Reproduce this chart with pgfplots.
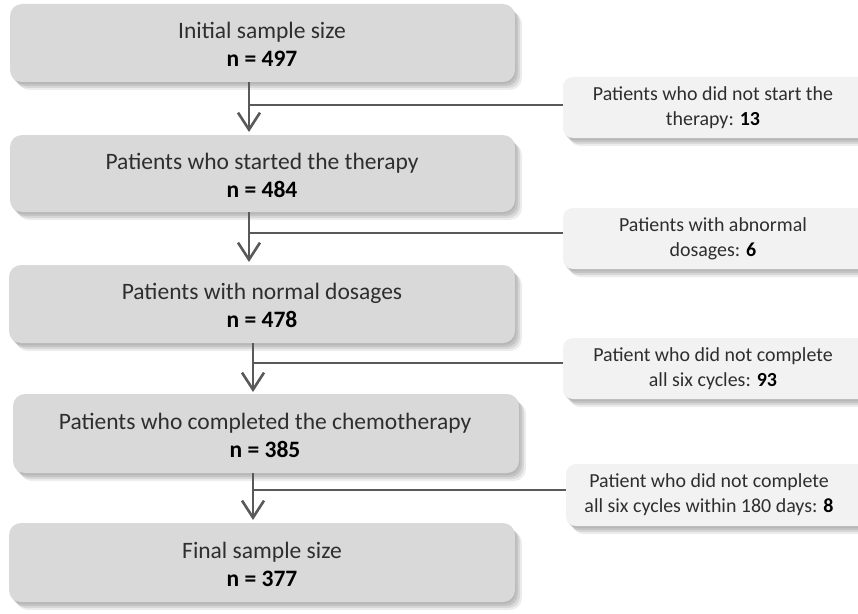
\documentclass[border=0pt]{standalone}
\usepackage{pgfplots}
\pgfplotsset{compat=1.18}
\usepackage{fontspec}
\setmainfont{Carlito}
\usetikzlibrary{arrows.meta}
\definecolor{mainbox}{HTML}{D9D9D9}
\definecolor{sidebox}{HTML}{F2F2F2}
\definecolor{conn}{HTML}{595959}
\definecolor{txt}{HTML}{2E2E2E}
\newcommand{\shbox}[6]{%
  \fill[black,opacity=0.07,rounded corners=#6,xshift=1bp,yshift=-2bp] (axis cs:#1,#2) rectangle (axis cs:#3,#4);
  \fill[black,opacity=0.09,rounded corners=#6,xshift=3bp,yshift=-4bp] (axis cs:#1,#2) rectangle (axis cs:#3,#4);
  \fill[black,opacity=0.09,rounded corners=#6,xshift=5bp,yshift=-6bp] (axis cs:#1,#2) rectangle (axis cs:#3,#4);
  \fill[black,opacity=0.07,rounded corners=#6,xshift=7bp,yshift=-8bp] (axis cs:#1,#2) rectangle (axis cs:#3,#4);
  \fill[#5,rounded corners=#6] (axis cs:#1,#2) rectangle (axis cs:#3,#4);
}
\begin{document}
\begin{tikzpicture}
\begin{axis}[width=858bp,height=614bp,scale only axis,
  xmin=0,xmax=858,ymin=0,ymax=614,y dir=reverse,hide axis,clip=true]
\path (axis cs:0,0) rectangle (axis cs:858,614);
% main boxes
\shbox{10}{4}{515}{82}{mainbox}{12bp}
\shbox{10}{135}{515}{212}{mainbox}{12bp}
\shbox{9}{265}{515}{343}{mainbox}{12bp}
\shbox{13}{394}{519}{473}{mainbox}{12bp}
\shbox{9}{523}{515}{602}{mainbox}{12bp}
% side boxes
\shbox{563}{77}{880}{138}{sidebox}{10bp}
\shbox{563}{208}{880}{269}{sidebox}{10bp}
\shbox{563}{338}{880}{399}{sidebox}{10bp}
\shbox{566}{464}{880}{526}{sidebox}{10bp}
% connectors
\addplot[conn,line width=2.6bp,no marks,-{Straight Barb[length=17bp,width=22bp]}] coordinates {(249,82) (249,132)};
\addplot[conn,line width=2.6bp,no marks] coordinates {(249,105) (563,105)};
\addplot[conn,line width=2.6bp,no marks,-{Straight Barb[length=17bp,width=22bp]}] coordinates {(249,212) (249,262)};
\addplot[conn,line width=2.6bp,no marks] coordinates {(249,233) (563,233)};
\addplot[conn,line width=2.6bp,no marks,-{Straight Barb[length=17bp,width=22bp]}] coordinates {(253,343) (253,392)};
\addplot[conn,line width=2.6bp,no marks] coordinates {(253,363) (563,363)};
\addplot[conn,line width=2.6bp,no marks,-{Straight Barb[length=17bp,width=22bp]}] coordinates {(253,473) (253,520)};
\addplot[conn,line width=2.6bp,no marks] coordinates {(253,490) (566,490)};
% main texts
\tikzset{mt/.style={text=txt,align=center,font=\fontsize{23.6}{28}\selectfont},
         st/.style={text=txt,align=center,font=\fontsize{20}{25}\selectfont}}
\node[mt] at (axis cs:262,44) {Initial sample size\\{\color{black}\bfseries n = 497}};
\node[mt] at (axis cs:262,175) {Patients who started the therapy\\{\color{black}\bfseries n = 484}};
\node[mt] at (axis cs:262,305) {Patients with normal dosages\\{\color{black}\bfseries n = 478}};
\node[mt] at (axis cs:265,435) {Patients who completed the chemotherapy\\{\color{black}\bfseries n = 385}};
\node[mt] at (axis cs:262,564) {Final sample size\\{\color{black}\bfseries n = 377}};
% side texts
\node[st] at (axis cs:713,108) {Patients who did not start the\\therapy: {\color{black}\bfseries 13}};
\node[st] at (axis cs:713,239) {Patients with abnormal\\dosages: {\color{black}\bfseries 6}};
\node[st] at (axis cs:713,369) {Patient who did not complete\\all six cycles: {\color{black}\bfseries 93}};
\node[st] at (axis cs:709,495) {Patient who did not complete\\all six cycles within 180 days: {\color{black}\bfseries 8}};
\end{axis}
\end{tikzpicture}
\end{document}
